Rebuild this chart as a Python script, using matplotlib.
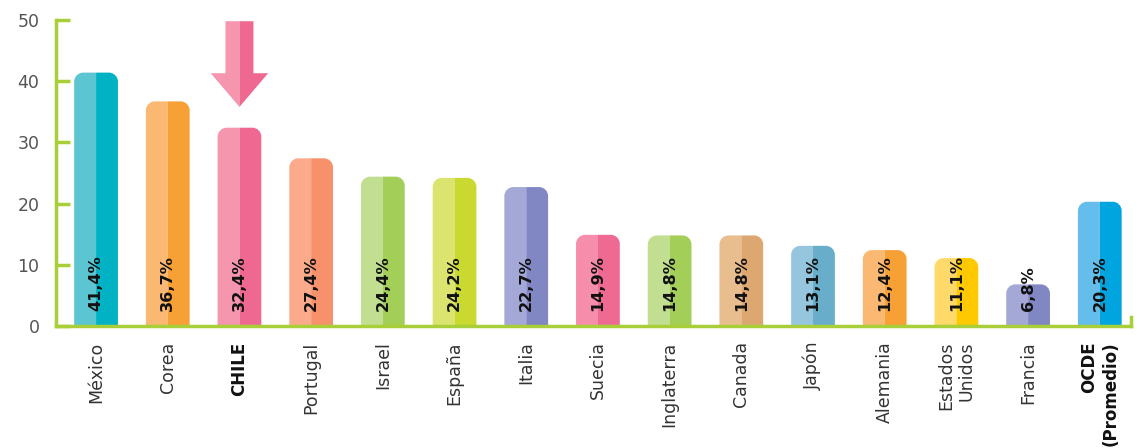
import matplotlib
matplotlib.use('Agg')
import matplotlib.pyplot as plt
from matplotlib.path import Path
import matplotlib.patches as patches

# Data
paises = ['México', 'Corea', 'CHILE', 'Portugal', 'Israel', 'España', 'Italia',
          'Suecia', 'Inglaterra', 'Canada', 'Japón', 'Alemania',
          'Estados\nUnidos', 'Francia', 'OCDE\n(Promedio)']
valores = [41.4, 36.7, 32.4, 27.4, 24.4, 24.2, 22.7, 14.9, 14.8, 14.8,
           13.1, 12.4, 11.1, 6.8, 20.3]
etiquetas = ['41,4%', '36,7%', '32,4%', '27,4%', '24,4%', '24,2%', '22,7%',
             '14,9%', '14,8%', '14,8%', '13,1%', '12,4%', '11,1%', '6,8%', '20,3%']
destacados = ['CHILE', 'OCDE\n(Promedio)']
y_ticks = [0, 10, 20, 30, 40, 50]

# bar colours (light left half, dark right half)
claros = ['#5cc5d2', '#fbb872', '#f596ae', '#fbab8b', '#c1de91', '#dbe46f', '#a3a8d6',
          '#f58dab', '#c1de91', '#e8be8f', '#95c6dd', '#fbb872', '#ffda6b', '#a3a8d6', '#64bdea']
oscuros = ['#00b2c3', '#f7a036', '#ef6891', '#f7916b', '#a3ce58', '#c9d92f', '#8087c3',
           '#ef6a92', '#a3ce58', '#dda771', '#68aecb', '#f7a036', '#ffc900', '#8087c3', '#00a4df']

verde = '#a9cf38'

K = 0.5523


def half_bar(ax, x0, x1, h, rx, ry, side, color):
    if side == 'left':
        verts = [(x1, 0), (x0, 0), (x0, h - ry),
                 (x0, h - ry + K * ry), (x0 + rx - K * rx, h), (x0 + rx, h),
                 (x1, h), (x1, 0)]
    else:
        verts = [(x0, 0), (x0, h), (x1 - rx, h),
                 (x1 - rx + K * rx, h), (x1, h - ry + K * ry), (x1, h - ry),
                 (x1, 0), (x0, 0)]
    codes = [Path.MOVETO, Path.LINETO, Path.LINETO,
             Path.CURVE4, Path.CURVE4, Path.CURVE4,
             Path.LINETO, Path.CLOSEPOLY]
    ax.add_patch(patches.PathPatch(Path(verts, codes), facecolor=color,
                                   edgecolor='none', zorder=1))


def main():
    fig = plt.figure(figsize=(11.37, 4.48), dpi=100)
    ax = fig.add_axes([0.0493, 0.2723, 0.9454, 0.6831])

    n = len(paises)
    ax.set_xlim(-0.558, n - 1 + 0.435)
    ax.set_ylim(0, 50)

    # pixel scale so the corners come out round
    fig_w, fig_h = fig.get_size_inches() * fig.dpi
    pos = ax.get_position()
    px_x = fig_w * pos.width / (ax.get_xlim()[1] - ax.get_xlim()[0])
    px_y = fig_h * pos.height / (ax.get_ylim()[1] - ax.get_ylim()[0])
    r = 9.0
    rx, ry = r / px_x, r / px_y

    w = 0.61
    for i, v in enumerate(valores):
        half_bar(ax, i - w / 2, i, v, rx, ry, 'left', claros[i])
        half_bar(ax, i, i + w / 2, v, rx, ry, 'right', oscuros[i])
        ax.text(i, 2.5, etiquetas[i], rotation=90, ha='center', va='bottom',
                fontsize=11.6, fontweight='bold', color='#111111', zorder=3)

    # arrow over CHILE
    ci = paises.index('CHILE')
    tip = valores[ci] + 3.4
    base = tip + 5.5
    top = 49.8
    sw, hw = 0.195, 0.40
    left = [(ci, top), (ci - sw, top), (ci - sw, base), (ci - hw, base), (ci, tip)]
    right = [(ci, top), (ci + sw, top), (ci + sw, base), (ci + hw, base), (ci, tip)]
    ax.add_patch(patches.Polygon(left, closed=True, facecolor='#f596ae',
                                 edgecolor='none', clip_on=False, zorder=2))
    ax.add_patch(patches.Polygon(right, closed=True, facecolor='#ef6891',
                                 edgecolor='none', clip_on=False, zorder=2))

    for s in ['top', 'right']:
        ax.spines[s].set_visible(False)
    for s in ['left', 'bottom']:
        ax.spines[s].set_color(verde)
        ax.spines[s].set_linewidth(2.5)
    ax.axvline(ax.get_xlim()[1], ymin=0, ymax=0.03, color=verde, lw=2.5, clip_on=False)

    ax.set_yticks(y_ticks)
    ax.tick_params(axis='y', direction='in', length=10, width=2.5, color=verde,
                   pad=12, labelsize=12.5, labelcolor='#555555')
    ax.set_xticks(range(n))
    ax.set_xticklabels(paises, rotation=90, ha='center', va='top',
                       fontsize=12.5, color='#333333', multialignment='right')
    ax.tick_params(axis='x', length=0, pad=11)
    for lbl in ax.get_xticklabels():
        if lbl.get_text() in destacados:
            lbl.set_fontweight('bold')
            lbl.set_color('#111111')
            lbl.set_fontsize(12)

    fig.savefig('out.png', dpi=100)


if __name__ == '__main__':
    main()
